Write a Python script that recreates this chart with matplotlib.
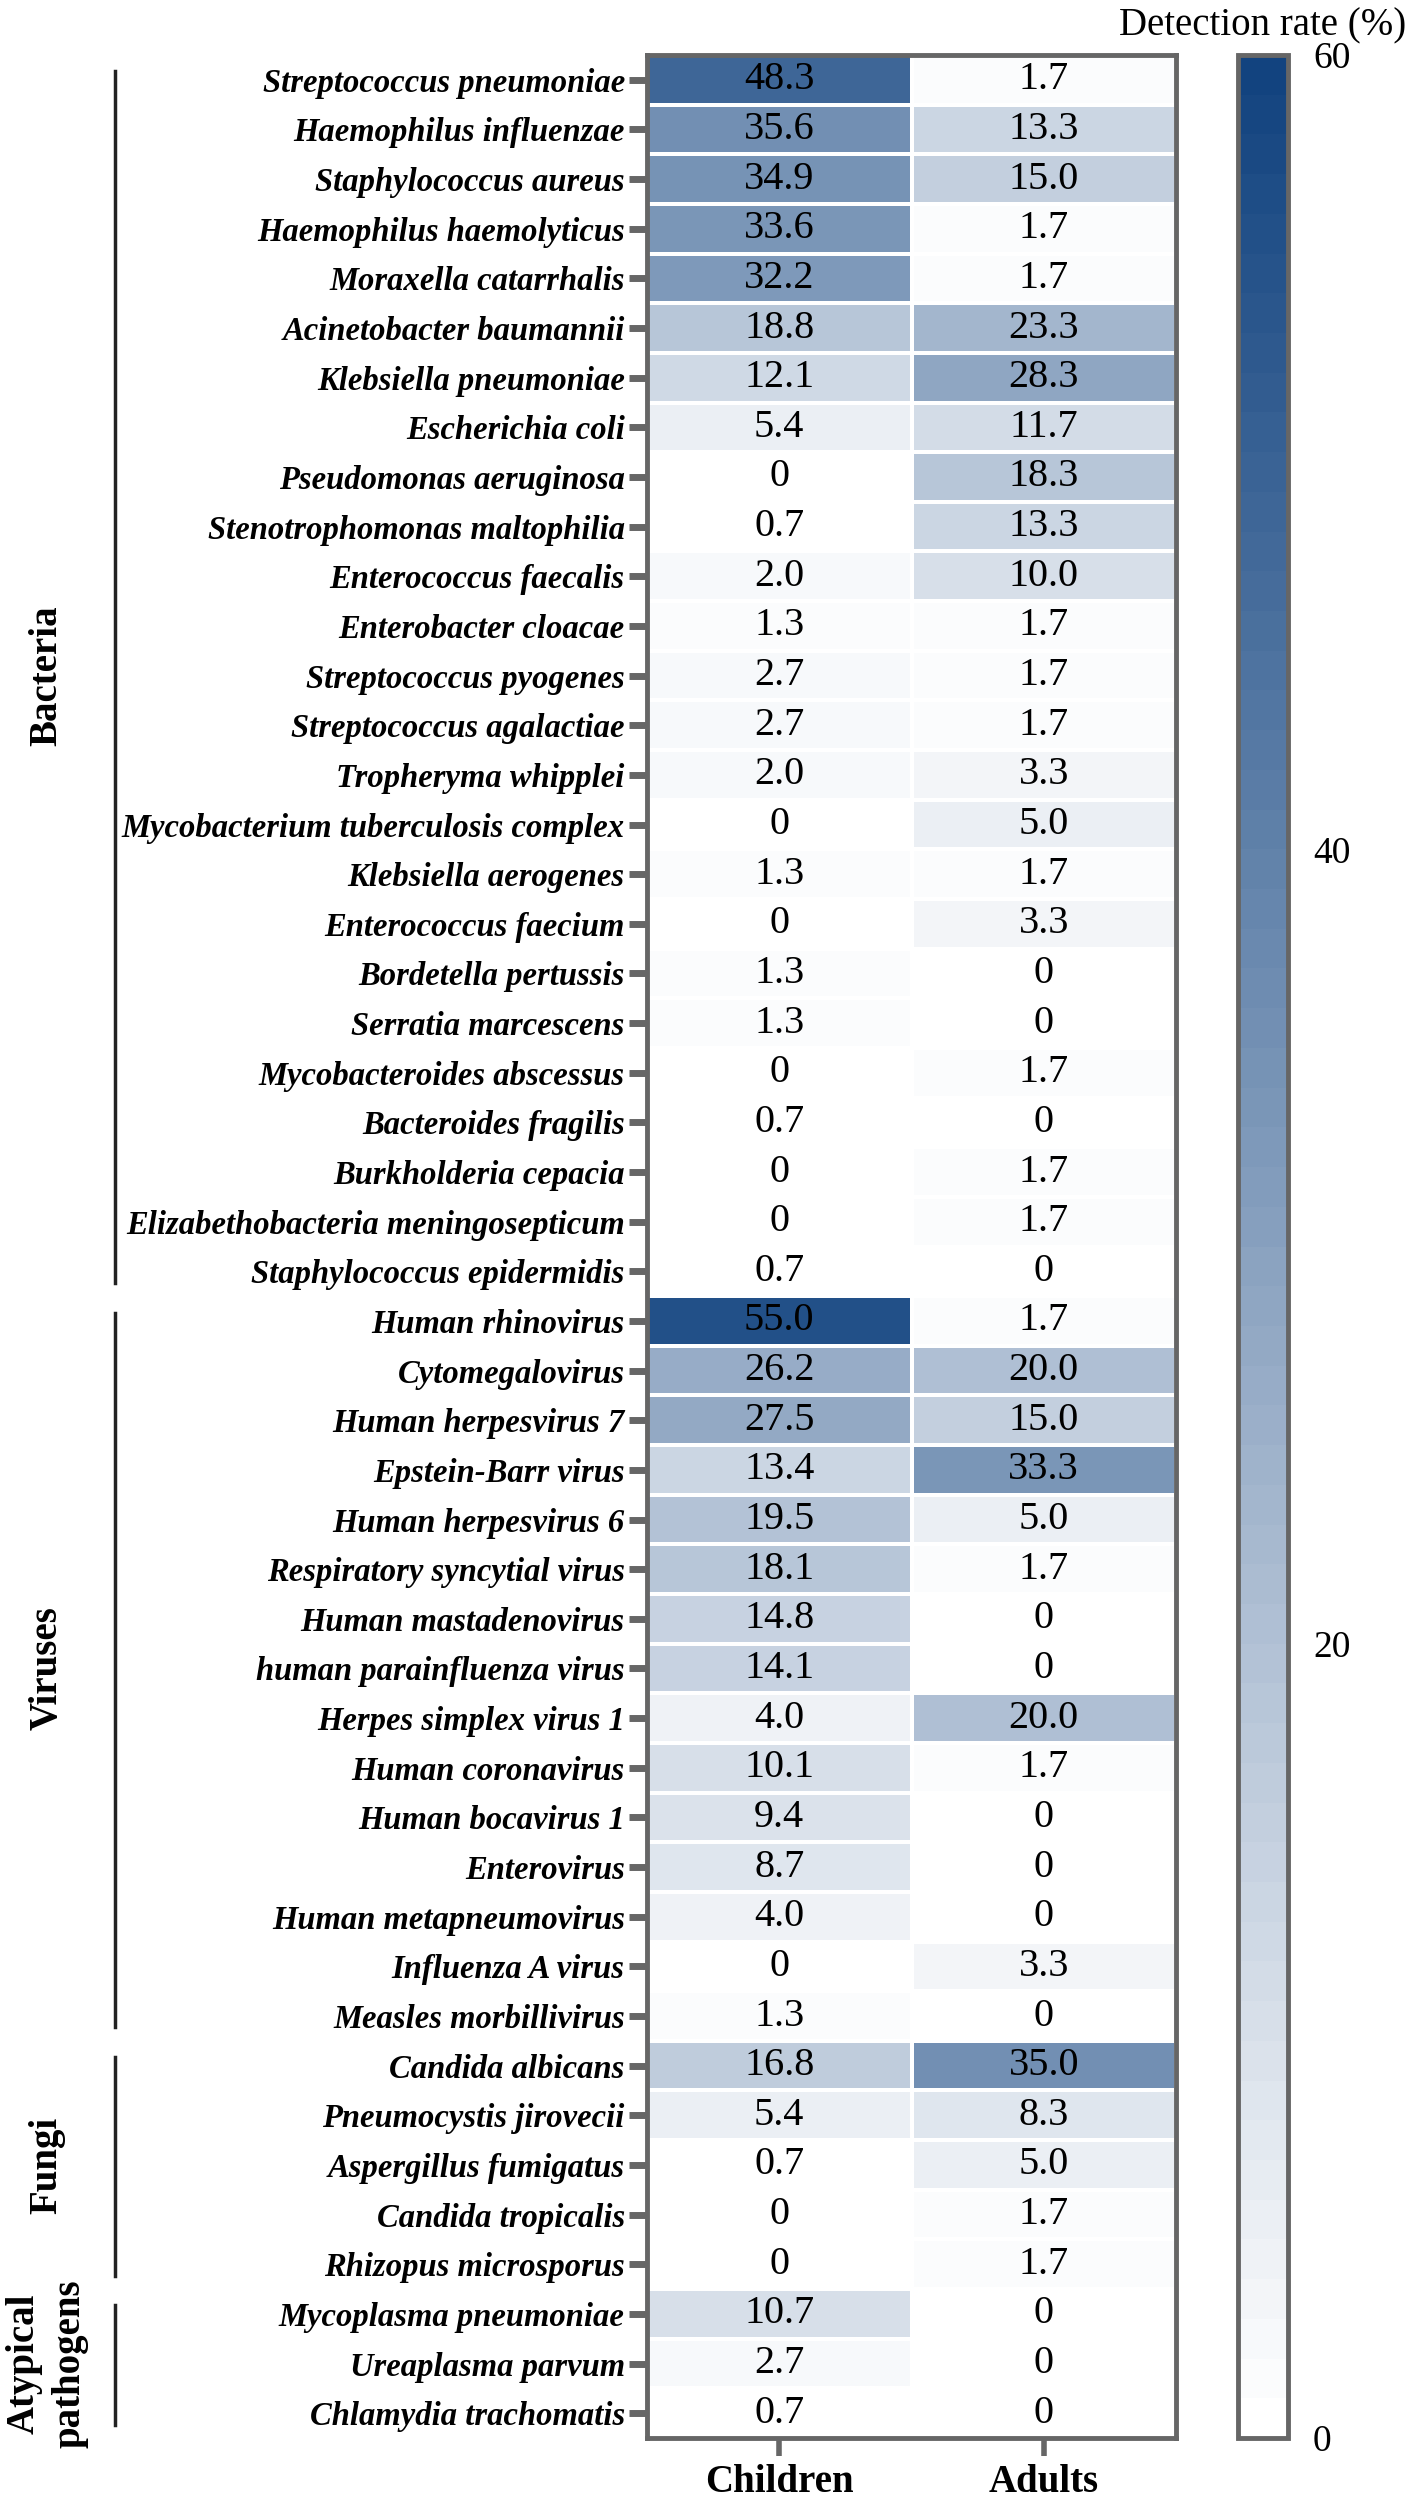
import numpy as np
import matplotlib
matplotlib.use("Agg")
import matplotlib.pyplot as plt
from matplotlib.colors import LinearSegmentedColormap
from matplotlib.transforms import blended_transform_factory

plt.rcParams['font.family'] = ['Liberation Serif', 'DejaVu Serif']

bacteria = ['Streptococcus pneumoniae', 'Haemophilus influenzae', 'Staphylococcus aureus',
            'Haemophilus haemolyticus', 'Moraxella catarrhalis', 'Acinetobacter baumannii',
            'Klebsiella pneumoniae', 'Escherichia coli', 'Pseudomonas aeruginosa',
            'Stenotrophomonas maltophilia', 'Enterococcus faecalis', 'Enterobacter cloacae',
            'Streptococcus pyogenes', 'Streptococcus agalactiae', 'Tropheryma whipplei',
            'Mycobacterium tuberculosis complex', 'Klebsiella aerogenes', 'Enterococcus faecium',
            'Bordetella pertussis', 'Serratia marcescens', 'Mycobacteroides abscessus',
            'Bacteroides fragilis', 'Burkholderia cepacia', 'Elizabethobacteria meningosepticum',
            'Staphylococcus epidermidis']
bacteria_children = [48.3, 35.6, 34.9, 33.6, 32.2, 18.8, 12.1, 5.4, 0, 0.7, 2.0, 1.3, 2.7, 2.7,
                     2.0, 0, 1.3, 0, 1.3, 1.3, 0, 0.7, 0, 0, 0.7]
bacteria_adults = [1.7, 13.3, 15.0, 1.7, 1.7, 23.3, 28.3, 11.7, 18.3, 13.3, 10.0, 1.7, 1.7, 1.7,
                   3.3, 5.0, 1.7, 3.3, 0, 0, 1.7, 0, 1.7, 1.7, 0]

viruses = ['Human rhinovirus', 'Cytomegalovirus', 'Human herpesvirus 7', 'Epstein-Barr virus',
           'Human herpesvirus 6', 'Respiratory syncytial virus', 'Human mastadenovirus',
           'human parainfluenza virus', 'Herpes simplex virus 1', 'Human coronavirus',
           'Human bocavirus 1', 'Enterovirus', 'Human metapneumovirus', 'Influenza A virus',
           'Measles morbillivirus']
viruses_children = [55.0, 26.2, 27.5, 13.4, 19.5, 18.1, 14.8, 14.1, 4.0, 10.1, 9.4, 8.7, 4.0, 0, 1.3]
viruses_adults = [1.7, 20.0, 15.0, 33.3, 5.0, 1.7, 0, 0, 20.0, 1.7, 0, 0, 0, 3.3, 0]

fungi = ['Candida albicans', 'Pneumocystis jirovecii', 'Aspergillus fumigatus',
         'Candida tropicalis', 'Rhizopus microsporus']
fungi_children = [16.8, 5.4, 0.7, 0, 0]
fungi_adults = [35.0, 8.3, 5.0, 1.7, 1.7]

atypical = ['Mycoplasma pneumoniae', 'Ureaplasma parvum', 'Chlamydia trachomatis']
atypical_children = [10.7, 2.7, 0.7]
atypical_adults = [0, 0, 0]

groups = ['Bacteria', 'Viruses', 'Fungi', 'Atypical\npathogens']
columns = ['Children', 'Adults']

names = bacteria + viruses + fungi + atypical
children = bacteria_children + viruses_children + fungi_children + atypical_children
adults = bacteria_adults + viruses_adults + fungi_adults + atypical_adults
group_sizes = [len(bacteria), len(viruses), len(fungi), len(atypical)]

data = np.column_stack([children, adults])
n_rows = data.shape[0]

cmap = LinearSegmentedColormap.from_list('blues', ['#ffffff', '#12437f'], N=60)

W, H = 1418, 2505
fig = plt.figure(figsize=(W / 100, H / 100), dpi=100)
ax = fig.add_axes([647 / W, 1 - 2438 / H, (1176 - 647) / W, (2438 - 55) / H])
cax = fig.add_axes([1238 / W, 1 - 2438 / H, 50 / W, (2438 - 55) / H])

mesh = ax.pcolormesh(data, cmap=cmap, vmin=0, vmax=60, edgecolors='white', linewidth=1.5)
ax.set_xlim(0, 2)
ax.set_ylim(n_rows, 0)

for i in range(n_rows):
    for j in range(2):
        v = data[i, j]
        s = '0' if v == 0 else f'{v:.1f}'
        ax.text(j + 0.5, i + 0.5, s, ha='center', va='center', fontsize=29, color='black')

ax.set_yticks(np.arange(n_rows) + 0.5)
ax.set_yticklabels(names, fontsize=23.5, fontweight='bold', style='italic')
ax.set_xticks([0.5, 1.5])
ax.set_xticklabels(columns, fontsize=28, fontweight='bold')
ax.tick_params(axis='y', length=13, width=5, color='#666666', pad=3)
ax.tick_params(axis='x', length=13, width=4, color='#666666', pad=6)
for sp in ax.spines.values():
    sp.set_color('#666666')
    sp.set_linewidth(3.5)

# group brackets and labels on the left
tr = blended_transform_factory(fig.transFigure, ax.transData)
start = 0
for g, size in zip(groups, group_sizes):
    end = start + size
    ax.plot([115 / W, 115 / W], [start + 0.33, end - 0.27], transform=tr,
            color='#222222', linewidth=2.5, clip_on=False)
    ax.text(47 / W, (start + end) / 2, g, transform=tr, rotation=90, ha='center',
            va='center', fontsize=28, fontweight='bold', linespacing=1.3)
    start = end

cb = fig.colorbar(mesh, cax=cax)
cb.set_ticks([0, 20, 40, 60])
cb.ax.tick_params(length=0, labelsize=27, pad=18)
cb.outline.set_edgecolor('#666666')
cb.outline.set_linewidth(3.5)
cax.set_title('Detection rate (%)', fontsize=28, pad=14)

fig.savefig('out.png', dpi=100)
